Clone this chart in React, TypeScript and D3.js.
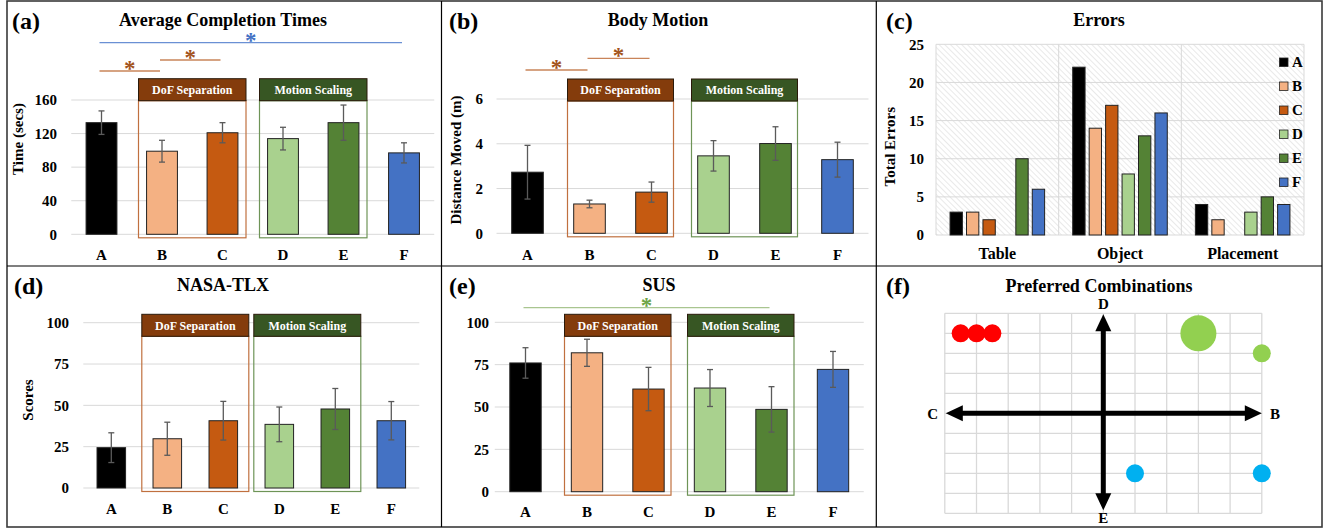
import React from 'react';
import * as d3 from 'd3';

const FONT = '"Liberation Serif", "Times New Roman", serif';

const conditions = ['A', 'B', 'C', 'D', 'E', 'F'];
const conditionColors = ['#000000', '#F4B183', '#C55A11', '#A9D18E', '#548235', '#4472C4'];

// (a) Average Completion Times
const timeMeans = [133, 99, 121, 114, 133, 97];
const timeErrors = [14, 13, 12, 13.5, 21, 12];
const timeTicks = [0, 40, 80, 120, 160];
const timeSig = [
  { from: 'A', to: 'B', tier: 0, kind: 'orange' },
  { from: 'B', to: 'C', tier: 1, kind: 'orange' },
  { from: 'A', to: 'F', tier: 2, kind: 'blue' },
];

// (b) Body Motion
const motionMeans = [2.73, 1.31, 1.84, 3.46, 4.01, 3.29];
const motionErrors = [1.2, 0.17, 0.45, 0.68, 0.75, 0.78];
const motionTicks = [0, 2, 4, 6];
const motionSig = [
  { from: 'A', to: 'B', tier: 0, kind: 'orange' },
  { from: 'B', to: 'C', tier: 1, kind: 'orange' },
];

// (c) Errors
const errorCategories = ['Table', 'Object', 'Placement'];
const errorsTable = [3, 3, 2, 0, 10, 6];
const errorsObject = [22, 14, 17, 8, 13, 16];
const errorsPlacement = [4, 2, 0, 3, 5, 4];
const errorTicks = [0, 5, 10, 15, 20, 25];

// (d) NASA-TLX
const tlxMeans = [24.4, 29.8, 40.7, 38.5, 47.8, 40.7];
const tlxErrors = [9, 10, 11.7, 10.5, 12.4, 11.6];
const scoreTicks = [0, 25, 50, 75, 100];

// (e) SUS
const susMeans = [76, 82, 60.6, 61.2, 48.6, 72.2];
const susErrors = [9, 8, 12.8, 10.9, 13.4, 10.6];
const susSig = [{ from: 'A', to: 'E', tier: 0, kind: 'green' }];

// (f) Preferred Combinations
const prefX = [-4.5, -4, -3.5, 3, 5, 1, 5];
const prefY = [4, 4, 4, 4, 3, -3, -3];
const prefCount = [1, 1, 1, 4, 1, 1, 1];
const prefColor = ['#FF0000', '#FF0000', '#FF0000', '#92D050', '#92D050', '#00B0F0', '#00B0F0'];
const gridSteps = d3.range(-5, 6);

const groups = [
  { name: 'DoF Separation', members: ['B', 'C'], fill: '#843C0C', stroke: '#C0703F' },
  { name: 'Motion Scaling', members: ['D', 'E'], fill: '#375623', stroke: '#6E9457' },
];

const sigStyles: Record<string, { line: string; star: string }> = {
  orange: { line: '#C98459', star: '#A3541C' },
  blue: { line: '#6A90D4', star: '#4472C4' },
  green: { line: '#A9C590', star: '#6FA446' },
};

function Star({ x, lineY, color }: { x: number; lineY: number; color: string }) {
  return (
    <text x={x} y={lineY + 5} textAnchor="middle" fontSize={23} fontWeight="bold" fill={color} fontFamily={FONT}>
      *
    </text>
  );
}

function BarPanel(p: any) {
  const x = d3.scaleBand<string>().domain(conditions).range([p.x0, p.x1]).paddingInner(0.49).paddingOuter(0.245);
  const top = p.ticks[p.ticks.length - 1];
  const y = d3.scaleLinear().domain([0, top]).range([p.y0, p.yTop]);
  const cx = (c: string) => (x(c) as number) + x.bandwidth() / 2;
  const fs = p.fontSize;
  return (
    <g fontFamily={FONT} fontWeight="bold">
      <text x={p.labelX} y={p.titleY + 3} fontSize={24}>{p.label}</text>
      <text x={p.titleX} y={p.titleY} fontSize={18} textAnchor="middle">{p.title}</text>
      {p.ticks.map((t: number) => (
        <g key={t}>
          <line x1={p.x0} x2={p.x1} y1={y(t)} y2={y(t)} stroke="#D9D9D9" strokeWidth={1} />
          <text x={p.tickRight} y={y(t)} dy="0.35em" textAnchor="end" fontSize={fs}>{t}</text>
        </g>
      ))}
      {p.ylabel && (
        <text transform={`translate(${p.ylabelX},${p.ylabelY}) rotate(-90)`} textAnchor="middle" fontSize={fs}>
          {p.ylabel}
        </text>
      )}
      {groups.map((g) => {
        const l = cx(g.members[0]) - p.boxPad;
        const r = cx(g.members[g.members.length - 1]) + p.boxPad;
        return (
          <rect key={g.name} x={l} y={p.headerTop + 22} width={r - l} height={p.y0 + 3.5 - p.headerTop - 22}
            fill="none" stroke={g.stroke} strokeWidth={1.2} />
        );
      })}
      {conditions.map((c, i) => (
        <rect key={c} x={x(c)} y={y(p.means[i])} width={x.bandwidth()} height={p.y0 - y(p.means[i])}
          fill={conditionColors[i]} stroke="#222" strokeWidth={1} />
      ))}
      {conditions.map((c, i) => {
        const a = y(p.means[i] + p.errors[i]);
        const b = y(p.means[i] - p.errors[i]);
        const xc = cx(c);
        return (
          <g key={c} stroke="#5A5A5A" strokeWidth={1.3}>
            <line x1={xc} x2={xc} y1={a} y2={b} />
            <line x1={xc - 3} x2={xc + 3} y1={a} y2={a} />
            <line x1={xc - 3} x2={xc + 3} y1={b} y2={b} />
          </g>
        );
      })}
      {conditions.map((c) => (
        <text key={c} x={cx(c)} y={p.xLabelY} textAnchor="middle" fontSize={fs}>{c}</text>
      ))}
      {groups.map((g) => {
        const l = cx(g.members[0]) - p.boxPad;
        const r = cx(g.members[g.members.length - 1]) + p.boxPad;
        return (
          <g key={g.name}>
            <rect x={l} y={p.headerTop} width={r - l} height={22} fill={g.fill} stroke="#2a1a0a" strokeWidth={1} />
            <text x={(l + r) / 2} y={p.headerTop + 11} dy="0.35em" textAnchor="middle" fontSize={12} fill="#fff">
              {g.name}
            </text>
          </g>
        );
      })}
      {(p.sigs || []).map((s: any, i: number) => {
        const st = sigStyles[s.kind];
        const ly = p.sigYs[s.tier];
        const a = cx(s.from) - 2;
        const b = cx(s.to) - 2;
        return (
          <g key={i}>
            <line x1={a} x2={b} y1={ly} y2={ly} stroke={st.line} strokeWidth={1.3} />
            <Star x={(a + b) / 2} lineY={ly} color={st.star} />
          </g>
        );
      })}
    </g>
  );
}

function ErrorsPanel() {
  const x0 = 936, x1 = 1304, y0 = 235, yTop = 44.3;
  const xc = d3.scaleBand<string>().domain(errorCategories).range([x0, x1]);
  const y = d3.scaleLinear().domain([0, 25]).range([y0, yTop]);
  const series = [errorsTable, errorsObject, errorsPlacement];
  return (
    <g fontFamily={FONT} fontWeight="bold">
      <defs>
        <pattern id="hatch" width={4} height={4} patternUnits="userSpaceOnUse" patternTransform="rotate(-45)">
          <rect width={4} height={4} fill="#fff" />
          <line x1={0} y1={0} x2={0} y2={4} stroke="#DADADA" strokeWidth={1.2} />
        </pattern>
      </defs>
      <text x={886} y={29} fontSize={24}>(c)</text>
      <text x={1099} y={26} fontSize={18} textAnchor="middle">Errors</text>
      <rect x={x0} y={yTop} width={x1 - x0} height={y0 - yTop} fill="url(#hatch)" />
      {errorTicks.map((t) => (
        <g key={t}>
          <line x1={x0} x2={x1} y1={y(t)} y2={y(t)} stroke="#D9D9D9" strokeWidth={1} />
          <text x={924} y={y(t)} dy="0.35em" textAnchor="end" fontSize={15}>{t}</text>
        </g>
      ))}
      {[...errorCategories.map((c) => xc(c) as number), x1].map((v, i) => (
        <line key={i} x1={v} x2={v} y1={yTop} y2={y0} stroke="#D9D9D9" strokeWidth={1} />
      ))}
      <text transform={`translate(895,146.7) rotate(-90)`} textAnchor="middle" fontSize={15}>Total Errors</text>
      {errorCategories.map((cat, k) => {
        const start = xc(cat) as number;
        const inner = d3.scaleBand<string>().domain(conditions)
          .range([start + 12, start + xc.bandwidth() - 12]).paddingInner(0.25).paddingOuter(0.125);
        return (
          <g key={cat}>
            {conditions.map((c, i) =>
              series[k][i] > 0 ? (
                <rect key={c} x={inner(c)} y={y(series[k][i])} width={inner.bandwidth()} height={y0 - y(series[k][i])}
                  fill={conditionColors[i]} stroke="#222" strokeWidth={1} />
              ) : null
            )}
            <text x={start + xc.bandwidth() / 2} y={259} textAnchor="middle" fontSize={16}>{cat}</text>
          </g>
        );
      })}
      {conditions.map((c, i) => (
        <g key={c}>
          <rect x={1279.5} y={58 + i * 24} width={8.5} height={8.5} fill={conditionColors[i]} stroke="#222" strokeWidth={0.8} />
          <text x={1292} y={67 + i * 24} fontSize={15}>{c}</text>
        </g>
      ))}
    </g>
  );
}

function PrefPanel() {
  const x = d3.scaleLinear().domain([-5, 5]).range([944.8, 1261.8]);
  const y = d3.scaleLinear().domain([-5, 5]).range([513.3, 313.3]);
  const L = 17, H = 8;
  const hx0 = x(-5) + 1, hx1 = x(5), vy0 = y(5) + 1, vy1 = y(-5) - 3;
  return (
    <g fontFamily={FONT} fontWeight="bold">
      <text x={886} y={294} fontSize={24}>(f)</text>
      <text x={1099} y={292} fontSize={18} textAnchor="middle">Preferred Combinations</text>
      {gridSteps.map((v) => (
        <g key={v}>
          <line x1={x(v)} x2={x(v)} y1={y(5)} y2={y(-5)} stroke="#D9D9D9" strokeWidth={1.3} />
          <line x1={x(-5)} x2={x(5)} y1={y(v)} y2={y(v)} stroke="#D9D9D9" strokeWidth={1.3} />
        </g>
      ))}
      <line x1={hx0 + L - 2} x2={hx1 - L + 2} y1={y(0)} y2={y(0)} stroke="#000" strokeWidth={5} />
      <line x1={x(0)} x2={x(0)} y1={vy0 + L - 2} y2={vy1 - L + 2} stroke="#000" strokeWidth={5} />
      <path d={`M${hx0},${y(0)} L${hx0 + L},${y(0) - H} L${hx0 + L},${y(0) + H} Z`} fill="#000" />
      <path d={`M${hx1},${y(0)} L${hx1 - L},${y(0) - H} L${hx1 - L},${y(0) + H} Z`} fill="#000" />
      <path d={`M${x(0)},${vy0} L${x(0) - H},${vy0 + L} L${x(0) + H},${vy0 + L} Z`} fill="#000" />
      <path d={`M${x(0)},${vy1} L${x(0) - H},${vy1 - L} L${x(0) + H},${vy1 - L} Z`} fill="#000" />
      <text x={x(0)} y={309} textAnchor="middle" fontSize={15}>D</text>
      <text x={x(0)} y={523} textAnchor="middle" fontSize={15}>E</text>
      <text x={938} y={419} textAnchor="end" fontSize={15}>C</text>
      <text x={1270} y={419} fontSize={15}>B</text>
      {prefX.map((px, i) => (
        <circle key={i} cx={x(px)} cy={y(prefY[i])} r={9 * Math.sqrt(prefCount[i])} fill={prefColor[i]} />
      ))}
    </g>
  );
}

export default function App() {
  return (
    <svg width={1330} height={529} style={{ position: 'absolute', left: 0, top: 0, background: '#fff' }}>
      <rect x={0} y={0} width={1330} height={529} fill="#fff" />
      <BarPanel label="(a)" labelX={12} title="Average Completion Times" titleX={223} titleY={26}
        x0={71.25} x1={434.25} y0={234.3} yTop={100} ticks={timeTicks} means={timeMeans} errors={timeErrors}
        tickRight={57} fontSize={15} ylabel="Time (secs)" ylabelX={23} ylabelY={139} xLabelY={259.5}
        boxPad={23.5} headerTop={78.7} sigs={timeSig} sigYs={[71, 60, 42.7]} />
      <BarPanel label="(b)" labelX={449} title="Body Motion" titleX={658} titleY={26}
        x0={496.5} x1={868.5} y0={233.3} yTop={99} ticks={motionTicks} means={motionMeans} errors={motionErrors}
        tickRight={483} fontSize={15} ylabel="Distance Moved (m)" ylabelX={461} ylabelY={160} xLabelY={259.5}
        boxPad={22} headerTop={79} sigs={motionSig} sigYs={[70, 58.3]} />
      <ErrorsPanel />
      <BarPanel label="(d)" labelX={14} title="NASA-TLX" titleX={223} titleY={291}
        x0={83.3} x1={419.3} y0={488} yTop={322.7} ticks={scoreTicks} means={tlxMeans} errors={tlxErrors}
        tickRight={69} fontSize={15} ylabel="Scores" ylabelX={33} ylabelY={400} xLabelY={513.5}
        boxPad={25.5} headerTop={314.3} sigs={[]} sigYs={[]} />
      <BarPanel label="(e)" labelX={449} title="SUS" titleX={659} titleY={291}
        x0={494.75} x1={863.75} y0={491.7} yTop={322.3} ticks={scoreTicks} means={susMeans} errors={susErrors}
        tickRight={489} fontSize={15} xLabelY={516.5}
        boxPad={22.5} headerTop={314.3} sigs={susSig} sigYs={[307.7]} />
      <PrefPanel />
      <rect x={7} y={1} width={1315} height={526} fill="none" stroke="#3A3A3A" strokeWidth={1.6} />
      <line x1={441.5} x2={441.5} y1={1} y2={527} stroke="#000" strokeWidth={1.2} />
      <line x1={876.3} x2={876.3} y1={1} y2={527} stroke="#000" strokeWidth={1.2} />
      <line x1={7} x2={1322} y1={266} y2={266} stroke="#000" strokeWidth={1.2} />
    </svg>
  );
}
